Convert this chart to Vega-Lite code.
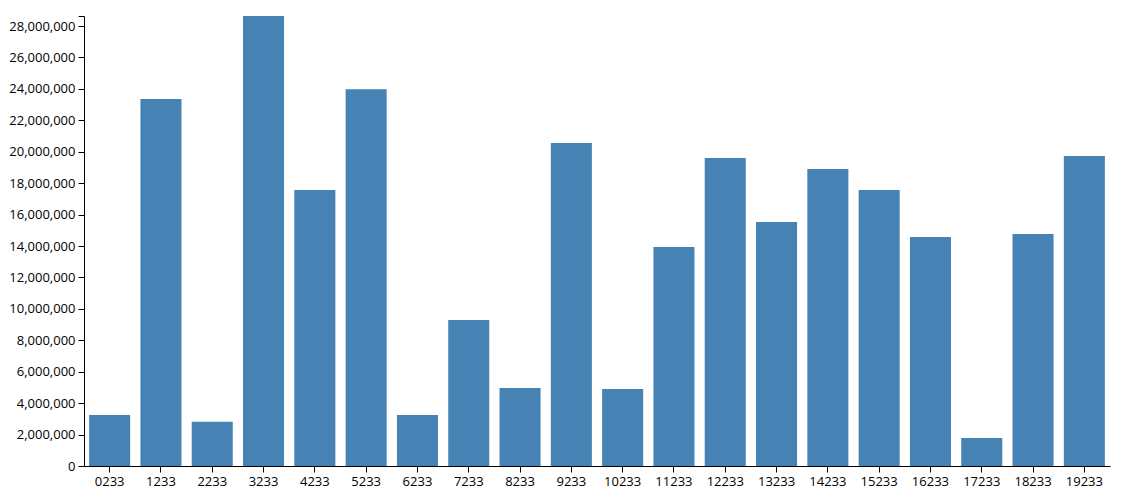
{
  "$schema": "https://vega.github.io/schema/vega-lite/v6.json",
  "width": 1026,
  "height": 450,
  "autosize": {"type": "none"},
  "padding": {"left": 84, "top": 16, "right": 17, "bottom": 32},
  "background": "white",
  "config": {
    "view": {"stroke": null},
    "axis": {
      "labelFont": "Open Sans",
      "labelFontSize": 13,
      "labelColor": "black",
      "domainColor": "black",
      "tickColor": "black",
      "tickSize": 6,
      "labelPadding": 3,
      "grid": false,
      "title": null
    }
  },
  "data": {
    "values": [
      {"label": "0233", "value": 3250000},
      {"label": "1233", "value": 23360000},
      {"label": "2233", "value": 2820000},
      {"label": "3233", "value": 28640000},
      {"label": "4233", "value": 17570000},
      {"label": "5233", "value": 23980000},
      {"label": "6233", "value": 3250000},
      {"label": "7233", "value": 9290000},
      {"label": "8233", "value": 4970000},
      {"label": "9233", "value": 20560000},
      {"label": "10233", "value": 4900000},
      {"label": "11233", "value": 13940000},
      {"label": "12233", "value": 19600000},
      {"label": "13233", "value": 15530000},
      {"label": "14233", "value": 18900000},
      {"label": "15233", "value": 17570000},
      {"label": "16233", "value": 14580000},
      {"label": "17233", "value": 1780000},
      {"label": "18233", "value": 14770000},
      {"label": "19233", "value": 19730000}
    ]
  },
  "mark": {"type": "bar", "color": "#4682b4"},
  "encoding": {
    "x": {
      "field": "label",
      "type": "nominal",
      "sort": null,
      "scale": {"paddingInner": 0.2, "paddingOuter": 0.1},
      "axis": {"labelAngle": 0}
    },
    "y": {
      "field": "value",
      "type": "quantitative",
      "scale": {"domain": [0, 28640000], "nice": false},
      "axis": {
        "values": [0, 2000000, 4000000, 6000000, 8000000, 10000000, 12000000, 14000000, 16000000, 18000000, 20000000, 22000000, 24000000, 26000000, 28000000, 28640000],
        "labelExpr": "datum.value % 2000000 == 0 ? format(datum.value, ',') : ''"
      }
    }
  }
}
